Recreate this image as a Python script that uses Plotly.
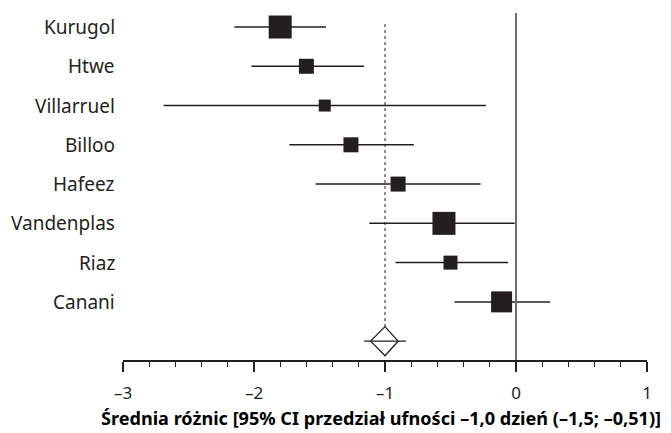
import plotly.graph_objects as go

studies = ["Kurugol", "Htwe", "Villarruel", "Billoo", "Hafeez", "Vandenplas", "Riaz", "Canani"]
mean_diff = [-1.80, -1.60, -1.46, -1.26, -0.90, -0.55, -0.50, -0.11]
ci_low = [-2.15, -2.02, -2.69, -1.73, -1.53, -1.12, -0.92, -0.47]
ci_high = [-1.45, -1.16, -0.23, -0.78, -0.27, -0.01, -0.06, 0.26]
weight_px = [23, 15, 12, 15, 15, 23, 14, 21]

pooled = -1.0
pooled_lo = -1.11
pooled_hi = -0.90
pooled_ci_lo = -1.16
pooled_ci_hi = -0.84

x_ticks = [-3, -2, -1, 0, 1]
x_ticktext = ["–3", "–2", "–1", "0", "1"]
x_title = "Średnia różnic [95% CI przedział ufności –1,0 dzień (–1,5; –0,51)]"

DARK = "#231f20"
FONT = "Noto Sans"

rows = list(range(1, len(studies) + 1))
diamond_row = len(studies) + 1

fig = go.Figure()

# CI lines
lx, ly = [], []
for r, lo, hi in zip(rows, ci_low, ci_high):
    lx += [lo, hi, None]
    ly += [r, r, None]
fig.add_trace(go.Scatter(x=lx, y=ly, mode="lines",
                         line=dict(color=DARK, width=1.5), hoverinfo="skip", showlegend=False))

# squares
fig.add_trace(go.Scatter(x=mean_diff, y=rows, mode="markers",
                         marker=dict(symbol="square", size=weight_px, color=DARK, opacity=1,
                                     line=dict(width=0)),
                         showlegend=False, text=studies))

# pooled CI line through diamond
fig.add_trace(go.Scatter(x=[pooled_ci_lo, pooled_ci_hi], y=[diamond_row, diamond_row], mode="lines",
                         line=dict(color=DARK, width=1.2), hoverinfo="skip", showlegend=False))

# diamond
dh = 0.37
fig.add_trace(go.Scatter(x=[pooled_lo, pooled, pooled_hi, pooled, pooled_lo],
                         y=[diamond_row, diamond_row - dh, diamond_row, diamond_row + dh, diamond_row],
                         mode="lines", line=dict(color=DARK, width=1.3),
                         hoverinfo="skip", showlegend=False))

# zero line
fig.add_shape(type="line", x0=0, x1=0, y0=0, y1=1, xref="x", yref="paper",
              line=dict(color="#6d6e71", width=2))
# dotted pooled line
fig.add_shape(type="line", x0=pooled, x1=pooled, y0=0.924, y1=diamond_row - dh,
              xref="x", yref="y", line=dict(color=DARK, width=1, dash="dot"))

# study labels
for r, s in zip(rows, studies):
    fig.add_annotation(x=0, xref="paper", y=r, yref="y", text=s, showarrow=False,
                       xanchor="right", xshift=-6, font=dict(family=FONT, size=19, color=DARK))

fig.add_annotation(x=0.493, xref="paper", y=0, yref="paper", text=x_title, showarrow=False,
                   xanchor="center", yanchor="middle", yshift=-58,
                   font=dict(family=FONT, size=18.1, color="#000000", weight="bold"))

fig.update_xaxes(range=[-3, 1], tickvals=x_ticks, ticktext=x_ticktext,
                 showline=True, linecolor=DARK, linewidth=1.5,
                 ticks="outside", ticklen=10, tickwidth=1.5, tickcolor=DARK,
                 minor=dict(tickvals=[-3 + 0.2 * k for k in range(21)], ticks="outside",
                            ticklen=5, tickwidth=1, tickcolor=DARK),
                 showgrid=False, zeroline=False, ticklabelstandoff=7,
                 tickfont=dict(family=FONT, size=17, color=DARK))
fig.update_yaxes(range=[9.48, 0.643], showgrid=False, zeroline=False, showline=False,
                 showticklabels=False, ticks="")

# page body has an 8px default margin, so the figure is drawn 8px smaller
fig.update_layout(width=663, height=425, margin=dict(l=115, r=24, t=5, b=73),
                  plot_bgcolor="white", paper_bgcolor="white", showlegend=False,
                  font=dict(family=FONT))

fig.write_html("out.html")
